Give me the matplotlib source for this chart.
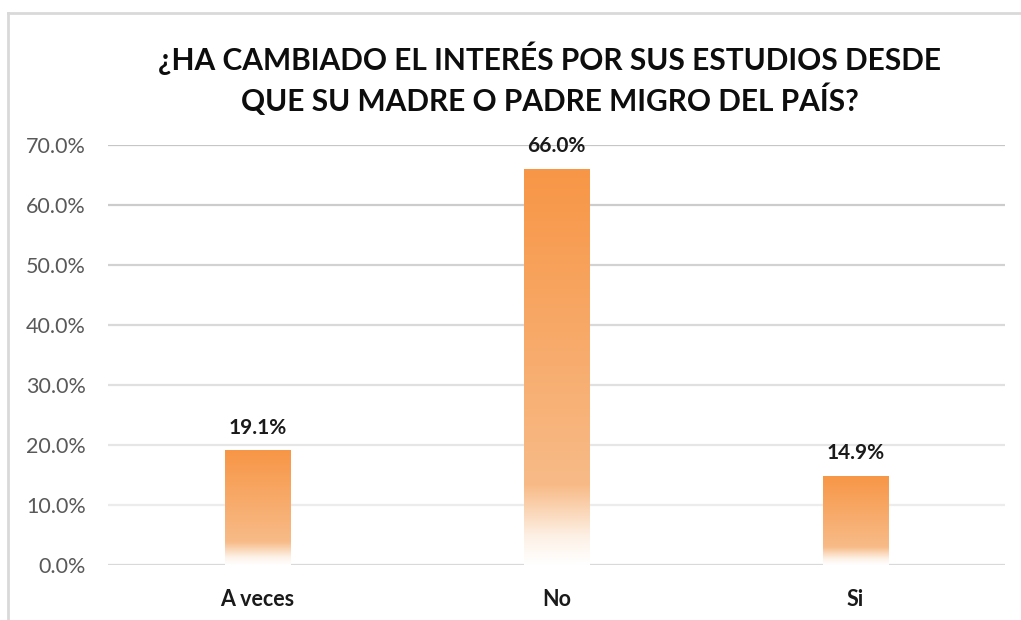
import numpy as np
import matplotlib.pyplot as plt
from matplotlib.colors import LinearSegmentedColormap
from matplotlib.lines import Line2D

# Data
categorias = ['A veces', 'No', 'Si']
porcentajes = [19.1, 66.0, 14.9]
titulo = '¿HA CAMBIADO EL INTERÉS POR SUS ESTUDIOS DESDE\nQUE SU MADRE O PADRE MIGRO DEL PAÍS?'
yticks = [0, 10, 20, 30, 40, 50, 60, 70]

W, H = 1021, 620
plt.rcParams['font.family'] = ['Lato', 'DejaVu Sans']

fig = plt.figure(figsize=(W / 100, H / 100), dpi=100)
ax = fig.add_axes([108 / W, 1 - 565 / H, (1005 - 108) / W, (565 - 145) / H])

# border of the chart area (only top/left visible in the crop)
fig.add_artist(Line2D([8 / W, 8 / W], [0, 1 - 13 / H], color='#d9d9d9', lw=2))
fig.add_artist(Line2D([8 / W, 1.0], [1 - 13 / H, 1 - 13 / H], color='#d9d9d9', lw=2))

x = np.arange(len(categorias))

# gridlines, darker toward the top
grid_cols = ['#d9d9d9', '#ececec', '#e6e6e6', '#e0e0e0', '#d9d9d9', '#d2d2d2', '#cccccc', '#c6c6c6']
for yv, c in zip(yticks, grid_cols):
    ax.axhline(yv, color=c, lw=1.6, zorder=0)

# gradient bars
cmap = LinearSegmentedColormap.from_list(
    'naranja', [(0.0, '#ffffff'), (0.07, '#fdf1e6'), (0.2, '#f8bb88'), (1.0, '#f79646')])
grad = np.linspace(0, 1, 256).reshape(-1, 1)
bars = ax.bar(x, porcentajes, width=0.22, color='none', edgecolor='none', zorder=2)
for b in bars:
    x0, y0, w, h = b.get_x(), b.get_y(), b.get_width(), b.get_height()
    im = ax.imshow(grad, cmap=cmap, origin='lower', aspect='auto',
                   extent=[x0, x0 + w, y0, y0 + h], zorder=2, interpolation='bicubic')
    im.set_clip_path(b)
    ax.annotate(f'{h:.1f}%', (x0 + w / 2, h), xytext=(0, 9), textcoords='offset points',
                ha='center', va='bottom', fontsize=15, fontweight='bold', color='#1a1a1a')

ax.set_xlim(-0.5, len(categorias) - 0.5)
ax.set_ylim(0, 70)
ax.set_xticks(x)
ax.set_xticklabels(categorias, fontsize=15.5, fontweight='bold', color='#1a1a1a')
ax.set_yticks(yticks)
ax.set_yticklabels([f'{v:.1f}%' for v in yticks], fontsize=15.5, color='#595959')
ax.tick_params(axis='both', length=0)
ax.tick_params(axis='y', pad=16)
ax.tick_params(axis='x', pad=17)
for s in ax.spines.values():
    s.set_visible(False)

fig.text(550 / W, 1 - 79 / H, titulo, ha='center', va='center', fontsize=21.5,
         fontweight='bold', color='#0d0d0d', linespacing=1.3)

fig.savefig('out.png', dpi=100)
